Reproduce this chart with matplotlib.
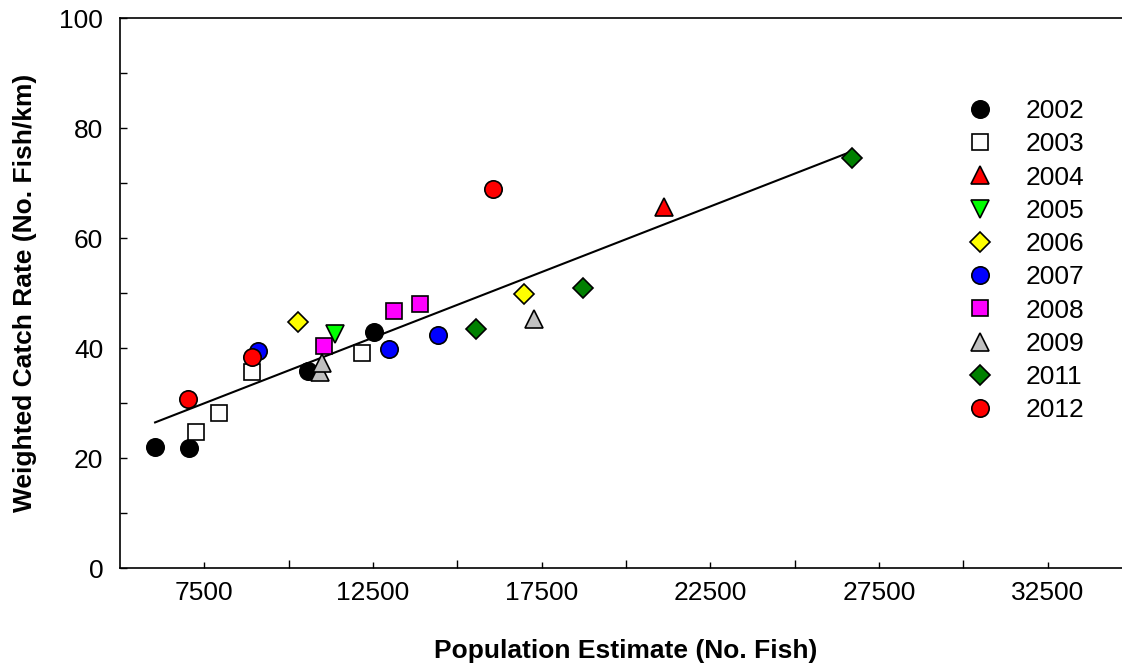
import numpy as np
import matplotlib
matplotlib.use("Agg")
import matplotlib.pyplot as plt

plt.rcParams['font.family'] = ['Liberation Sans', 'DejaVu Sans']

years = ['2002', '2003', '2004', '2005', '2006', '2007', '2008', '2009', '2011', '2012']
markers = ['o', 's', '^', 'v', 'D', 'o', 's', '^', 'D', 'o']
faces = ['black', 'white', 'red', '#00ff00', 'yellow', 'blue', 'magenta', '#c0c0c0', 'green', 'red']

pop_2002 = [6040, 7050, 10580, 12540]
cr_2002 = [22.0, 21.8, 35.8, 42.9]
pop_2003 = [7255, 7940, 8920, 12180]
cr_2003 = [24.7, 28.2, 35.6, 39.1]
pop_2004 = [21140]
cr_2004 = [65.6]
pop_2005 = [11380]
cr_2005 = [42.5]
pop_2006 = [10280, 16990]
cr_2006 = [44.7, 49.8]
pop_2007 = [9095, 12980, 14435]
cr_2007 = [39.5, 39.8, 42.4]
pop_2008 = [11050, 13130, 13900]
cr_2008 = [40.4, 46.7, 48.0]
pop_2009 = [10930, 10990, 17285]
cr_2009 = [35.6, 37.3, 45.3]
pop_2011 = [15565, 18740, 26690]
cr_2011 = [43.5, 50.9, 74.5]
pop_2012 = [7020, 8920, 16070]
cr_2012 = [30.7, 38.4, 68.9]

pops = [pop_2002, pop_2003, pop_2004, pop_2005, pop_2006, pop_2007, pop_2008, pop_2009, pop_2011, pop_2012]
rates = [cr_2002, cr_2003, cr_2004, cr_2005, cr_2006, cr_2007, cr_2008, cr_2009, cr_2011, cr_2012]

x_major = [7500, 12500, 17500, 22500, 27500, 32500]
x_minor = [10000, 15000, 20000, 25000, 30000, 35000]
y_major = [0, 20, 40, 60, 80, 100]
y_minor = [10, 30, 50, 70, 90]

FS = 19

fig = plt.figure(figsize=(11.22, 6.67), dpi=100)
ax = fig.add_axes([120/1122, 99/667, 1012/1122, 550/667])

allx = np.concatenate([np.array(p, float) for p in pops])
ally = np.concatenate([np.array(r, float) for r in rates])
slope, icpt = np.polyfit(allx, ally, 1)
xl = np.array([allx.min(), allx.max()])
ax.plot(xl, icpt + slope * xl, color='black', lw=1.5, zorder=2)

sizes = {'o': 12.5, 's': 11.5, '^': 12.5, 'v': 12.5, 'D': 10.2}
for yr, m, fc, px, ry in zip(years, markers, faces, pops, rates):
    ax.plot(px, ry, ls='none', marker=m, ms=sizes[m], mfc=fc, mec='black',
            mew=1.2, label=yr, zorder=3)

ax.set_xlim(5000, 35000)
ax.set_ylim(0, 100)
ax.set_xticks(x_major)
ax.set_xticks(x_minor, minor=True)
ax.set_yticks(y_major)
ax.set_yticks(y_minor, minor=True)
ax.tick_params(axis='x', which='major', direction='in', length=4, width=1, labelsize=FS, pad=9)
ax.tick_params(axis='x', which='minor', direction='in', length=6, width=1)
ax.tick_params(axis='y', which='both', direction='in', length=5, width=1, labelsize=FS, pad=12)
for s in ax.spines.values():
    s.set_linewidth(1.2)

ax.set_xlabel('Population Estimate (No. Fish)', fontsize=FS, fontweight='bold', labelpad=25)
ax.set_ylabel('Weighted Catch Rate (No. Fish/km)', fontsize=FS, fontweight='bold', labelpad=16)

leg = ax.legend(loc='upper left', bbox_to_anchor=(954/1122, 1 - 86/667),
                bbox_transform=fig.transFigure, frameon=False, fontsize=FS,
                handlelength=1.0, handletextpad=1.2, labelspacing=0.35, borderpad=0,
                numpoints=1)

fig.savefig('out.png', dpi=100)
